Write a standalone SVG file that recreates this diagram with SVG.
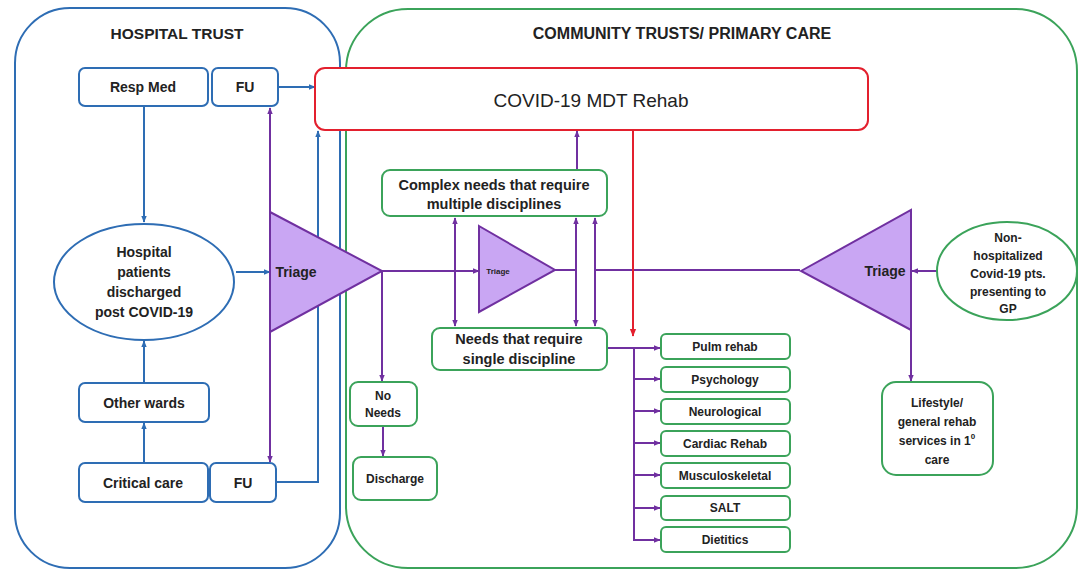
<svg xmlns="http://www.w3.org/2000/svg" width="1078" height="570" viewBox="0 0 1078 570">
<defs>
<marker id="ab" viewBox="0 0 10 10" refX="9" refY="5" markerWidth="7" markerHeight="7" markerUnits="userSpaceOnUse" orient="auto-start-reverse"><path d="M0,1 L10,5 L0,9 z" fill="#2E6DB4"/></marker>
<marker id="ap" viewBox="0 0 10 10" refX="9" refY="5" markerWidth="7" markerHeight="7" markerUnits="userSpaceOnUse" orient="auto-start-reverse"><path d="M0,1 L10,5 L0,9 z" fill="#7030A0"/></marker>
<marker id="ar" viewBox="0 0 10 10" refX="9" refY="5" markerWidth="8" markerHeight="8" markerUnits="userSpaceOnUse" orient="auto-start-reverse"><path d="M0,1 L10,5 L0,9 z" fill="#E3202E"/></marker>
</defs>
<style>
text{font-family:"Liberation Sans",Arial,sans-serif;font-weight:bold;fill:#222;text-anchor:middle;dominant-baseline:central}
.bx{fill:#fff;stroke:#2E6DB4;stroke-width:2}
.gx{fill:#fff;stroke:#3BA35A;stroke-width:2}
.tri{fill:#C9A6F3;stroke:#7030A0;stroke-width:2}
.cb{fill:none;stroke:#2E6DB4;stroke-width:2}
.cp{fill:none;stroke:#7030A0;stroke-width:2}
.cr{fill:none;stroke:#E3202E;stroke-width:2}
.t14{font-size:14px}
.t12{font-size:12px}
</style>
<rect width="1078" height="570" fill="#fff"/>

<g id="hospital-trust">
<rect x="15" y="8" width="325" height="560" rx="55" fill="none" stroke="#2E6DB4" stroke-width="2"/>
<text x="177" y="33" style="font-size:15.5px">HOSPITAL TRUST</text>
</g>
<g id="community-trusts">
<rect x="346" y="9" width="731" height="559" rx="62" fill="none" stroke="#3BA35A" stroke-width="2"/>
<text x="682" y="33" style="font-size:16px">COMMUNITY TRUSTS/ PRIMARY CARE</text>
</g>

<g id="connectors">
<line class="cb" x1="144" y1="106" x2="144" y2="222" marker-end="url(#ab)"/>
<line class="cb" x1="144" y1="383" x2="144" y2="341" marker-end="url(#ab)"/>
<line class="cb" x1="144" y1="463" x2="144" y2="423" marker-end="url(#ab)"/>
<line class="cb" x1="278" y1="87" x2="315" y2="87" marker-end="url(#ab)"/>
<line class="cb" x1="236" y1="272" x2="270" y2="272" marker-end="url(#ab)"/>
<polyline class="cb" points="276,482 318,482 318,131" marker-end="url(#ab)"/>
<line class="cp" x1="270" y1="108" x2="270" y2="462" marker-start="url(#ap)" marker-end="url(#ap)"/>
<line class="cp" x1="382" y1="271" x2="479" y2="271" marker-end="url(#ap)"/>
<polyline class="cp" points="382,271 382,381" marker-end="url(#ap)"/>
<line class="cp" x1="383" y1="426" x2="383" y2="456" marker-end="url(#ap)"/>
<line class="cp" x1="555" y1="270" x2="576" y2="270"/>
<line class="cp" x1="595" y1="270" x2="800" y2="270"/>
<line class="cp" x1="455" y1="218" x2="455" y2="326" marker-start="url(#ap)" marker-end="url(#ap)"/>
<line class="cp" x1="576" y1="218" x2="576" y2="326" marker-start="url(#ap)" marker-end="url(#ap)"/>
<line class="cp" x1="595" y1="218" x2="595" y2="326" marker-start="url(#ap)" marker-end="url(#ap)"/>
<line class="cp" x1="577" y1="170" x2="577" y2="131" marker-end="url(#ap)"/>
<line class="cr" x1="633" y1="130" x2="633" y2="336" marker-end="url(#ar)"/>
<polyline class="cp" points="607,348 634,348 634,540 660,540" marker-end="url(#ap)"/>
<line class="cp" x1="634" y1="348" x2="660" y2="348" marker-end="url(#ap)"/>
<line class="cp" x1="634" y1="379" x2="660" y2="379" marker-end="url(#ap)"/>
<line class="cp" x1="634" y1="411" x2="660" y2="411" marker-end="url(#ap)"/>
<line class="cp" x1="634" y1="443" x2="660" y2="443" marker-end="url(#ap)"/>
<line class="cp" x1="634" y1="475" x2="660" y2="475" marker-end="url(#ap)"/>
<line class="cp" x1="634" y1="508" x2="660" y2="508" marker-end="url(#ap)"/>
<line class="cp" x1="937" y1="271" x2="912" y2="271" marker-end="url(#ap)"/>
<line class="cp" x1="911" y1="330" x2="911" y2="381" marker-end="url(#ap)"/>
</g>

<g id="resp-med"><rect class="bx" x="79" y="68" width="129" height="38" rx="6"/><text x="143" y="87" class="t14">Resp Med</text></g>
<g id="fu-top"><rect class="bx" x="212" y="68" width="66" height="38" rx="6"/><text x="245" y="87" class="t14">FU</text></g>
<g id="hospital-patients"><ellipse cx="144" cy="282" rx="90" ry="58" fill="#fff" stroke="#2E6DB4" stroke-width="2"/>
<text x="144" y="252" class="t14">Hospital</text><text x="144" y="272" class="t14">patients</text><text x="144" y="292" class="t14">discharged</text><text x="144" y="312" class="t14">post COVID-19</text></g>
<g id="other-wards"><rect class="bx" x="79" y="383" width="130" height="39" rx="6"/><text x="144" y="403" class="t14">Other wards</text></g>
<g id="critical-care"><rect class="bx" x="79" y="463" width="129" height="39" rx="6"/><text x="143" y="483" class="t14">Critical care</text></g>
<g id="fu-bottom"><rect class="bx" x="210" y="463" width="66" height="39" rx="6"/><text x="243" y="483" class="t14">FU</text></g>
<g id="triage-1"><polygon class="tri" points="270,212 382,271 270,332"/><text x="296" y="272" class="t14">Triage</text></g>

<g id="mdt-rehab"><rect x="315" y="68" width="553" height="62" rx="10" fill="#fff" stroke="#E3202E" stroke-width="2"/><text x="591" y="100" style="font-size:19px;font-weight:normal">COVID-19 MDT Rehab</text></g>
<g id="complex-needs"><rect class="gx" x="382" y="170" width="225" height="46" rx="8"/><text x="494" y="185" style="font-size:14.5px">Complex needs that require</text><text x="494" y="204" style="font-size:14.5px">multiple disciplines</text></g>
<g id="triage-2"><polygon class="tri" points="479,226 555,270 479,312"/><text x="498" y="271" style="font-size:8px">Triage</text></g>
<g id="single-needs"><rect class="gx" x="432" y="328" width="175" height="42" rx="8"/><text x="519" y="339" style="font-size:14.5px">Needs that require</text><text x="519" y="359" style="font-size:14.5px">single discipline</text></g>
<g id="no-needs"><rect class="gx" x="350" y="382" width="67" height="44" rx="8"/><text x="383" y="396" class="t12">No</text><text x="383" y="413" class="t12">Needs</text></g>
<g id="discharge"><rect class="gx" x="353" y="457" width="84" height="43" rx="8"/><text x="395" y="479" class="t12">Discharge</text></g>
<g id="pulm-rehab"><rect class="gx" x="661" y="334" width="129" height="25" rx="5"/><text x="725" y="347" class="t12">Pulm rehab</text></g>
<g id="psychology"><rect class="gx" x="661" y="367" width="129" height="25" rx="5"/><text x="725" y="380" class="t12">Psychology</text></g>
<g id="neurological"><rect class="gx" x="661" y="399" width="129" height="25" rx="5"/><text x="725" y="412" class="t12">Neurological</text></g>
<g id="cardiac-rehab"><rect class="gx" x="661" y="431" width="129" height="25" rx="5"/><text x="725" y="444" class="t12">Cardiac Rehab</text></g>
<g id="musculoskeletal"><rect class="gx" x="661" y="463" width="129" height="25" rx="5"/><text x="725" y="476" class="t12">Musculoskeletal</text></g>
<g id="salt"><rect class="gx" x="661" y="496" width="129" height="24" rx="5"/><text x="725" y="508" class="t12">SALT</text></g>
<g id="dietitics"><rect class="gx" x="661" y="527" width="129" height="25" rx="5"/><text x="725" y="540" class="t12">Dietitics</text></g>
<g id="triage-3"><polygon class="tri" points="801,271 911,210 911,330"/><text x="885" y="271" class="t14">Triage</text></g>
<g id="non-hospitalized"><ellipse cx="1007" cy="271" rx="70" ry="49" fill="#fff" stroke="#3BA35A" stroke-width="2"/>
<text x="1008" y="238" class="t12">Non-</text><text x="1008" y="256" class="t12">hospitalized</text><text x="1008" y="274" class="t12">Covid-19 pts.</text><text x="1008" y="292" class="t12">presenting to</text><text x="1008" y="309" class="t12">GP</text></g>
<g id="lifestyle"><rect class="gx" x="882" y="382" width="111" height="93" rx="14"/>
<text x="937" y="403" class="t12">Lifestyle/</text><text x="937" y="422" class="t12">general rehab</text><text x="937" y="441" class="t12">services in 1<tspan dy="-5" style="font-size:8px">0</tspan></text><text x="937" y="460" class="t12">care</text></g>
</svg>
